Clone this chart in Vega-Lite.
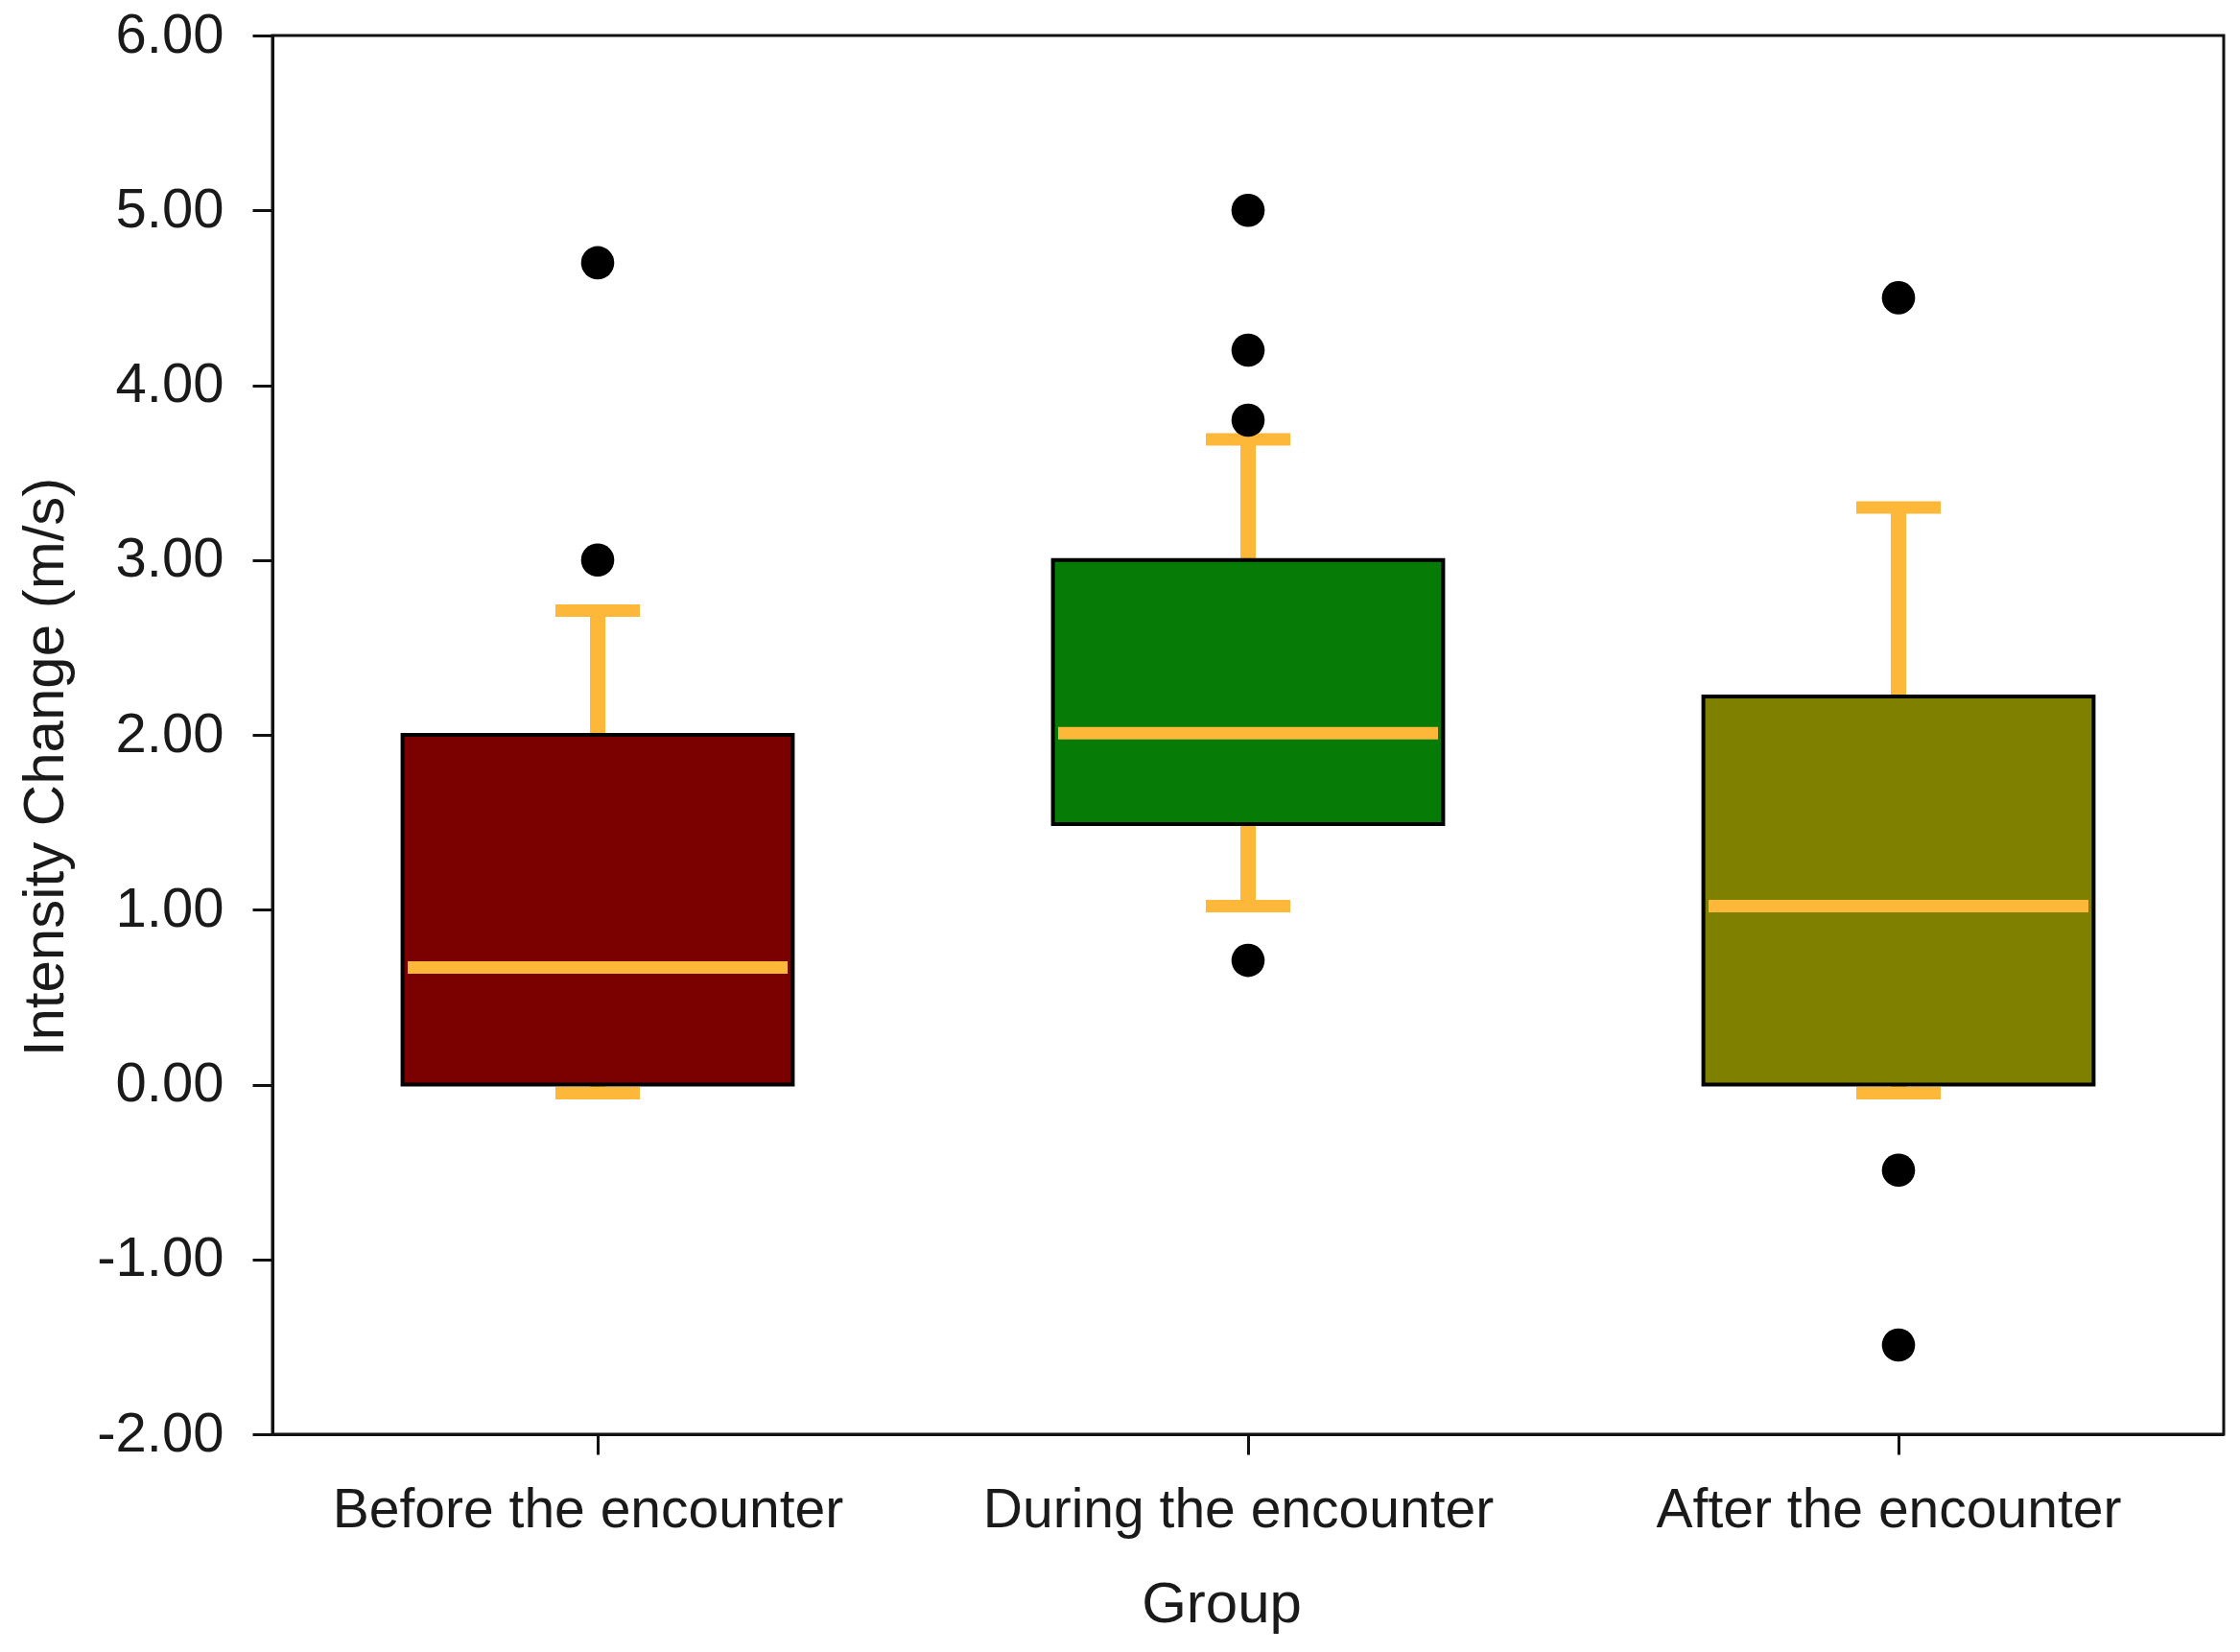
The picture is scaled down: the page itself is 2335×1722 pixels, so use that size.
{
  "$schema": "https://vega.github.io/schema/vega-lite/v6.json",
  "autosize": {"type": "none"},
  "width": 2034,
  "height": 1458,
  "padding": {"left": 284, "top": 37, "right": 17, "bottom": 227},
  "background": "white",
  "config": {
    "view": {"stroke": "#111", "strokeWidth": 3},
    "font": "Liberation Sans",
    "axis": {
      "labelFont": "Liberation Sans",
      "titleFont": "Liberation Sans",
      "labelFontSize": 58,
      "titleFontSize": 60,
      "labelColor": "#1a1a1a",
      "titleColor": "#1a1a1a",
      "titleFontWeight": "normal",
      "domainColor": "#111",
      "domainWidth": 3,
      "tickColor": "#111",
      "tickWidth": 3,
      "tickSize": 21,
      "grid": false,
      "labelLimit": 0
    }
  },
  "datasets": {
    "summary": [
      {"group": "Before the encounter", "lower": -0.05, "q1": 0.0, "median": 0.67, "q3": 2.0, "upper": 2.71},
      {"group": "During the encounter", "lower": 1.02, "q1": 1.49, "median": 2.01, "q3": 3.0, "upper": 3.69},
      {"group": "After the encounter", "lower": -0.05, "q1": 0.0, "median": 1.02, "q3": 2.22, "upper": 3.3}
    ],
    "outliers": [
      {"group": "Before the encounter", "value": 4.7},
      {"group": "Before the encounter", "value": 3.0},
      {"group": "During the encounter", "value": 5.0},
      {"group": "During the encounter", "value": 4.2},
      {"group": "During the encounter", "value": 3.8},
      {"group": "During the encounter", "value": 0.71},
      {"group": "After the encounter", "value": 4.5},
      {"group": "After the encounter", "value": -0.49},
      {"group": "After the encounter", "value": -1.49}
    ]
  },
  "encoding": {
    "x": {
      "field": "group",
      "type": "nominal",
      "sort": ["Before the encounter", "During the encounter", "After the encounter"],
      "scale": {"paddingInner": 0, "paddingOuter": 0},
      "axis": {"title": "Group", "labelAngle": 0, "labelPadding": 30, "labelOffset": -10, "labelFontSize": 57, "titlePadding": 41, "titleX": 989}
    }
  },
  "layer": [
    {
      "data": {"name": "summary"},
      "mark": {"type": "rule", "color": "#fdb83a", "strokeWidth": 16},
      "encoding": {
        "y": {
          "field": "lower",
          "type": "quantitative",
          "scale": {"domain": [-2, 6], "nice": false, "zero": false},
          "axis": {
            "title": "Intensity Change (m/s)",
            "values": [-2, -1, 0, 1, 2, 3, 4, 5, 6],
            "labelExpr": "(datum.value < 0 ? '-' : '') + format(abs(datum.value), '.2f')",
            "labelPadding": 30,
            "titlePadding": 22,
            "titleY": 762
          }
        },
        "y2": {"field": "upper"}
      }
    },
    {
      "data": {"name": "summary"},
      "mark": {"type": "tick", "color": "#fdb83a", "size": 88, "thickness": 13, "opacity": 1},
      "encoding": {"y": {"field": "upper", "type": "quantitative"}}
    },
    {
      "data": {"name": "summary"},
      "mark": {"type": "tick", "color": "#fdb83a", "size": 88, "thickness": 13, "opacity": 1},
      "encoding": {"y": {"field": "lower", "type": "quantitative"}}
    },
    {
      "data": {"name": "summary"},
      "mark": {"type": "bar", "width": {"band": 0.6}, "stroke": "#000", "strokeWidth": 4, "opacity": 1},
      "encoding": {
        "y": {"field": "q1", "type": "quantitative"},
        "y2": {"field": "q3"},
        "color": {
          "field": "group",
          "type": "nominal",
          "scale": {
            "domain": ["Before the encounter", "During the encounter", "After the encounter"],
            "range": ["#7b0000", "#067b06", "#808000"]
          },
          "legend": null
        }
      }
    },
    {
      "data": {"name": "summary"},
      "mark": {"type": "tick", "color": "#fdb83a", "size": 396, "thickness": 13, "opacity": 1},
      "encoding": {"y": {"field": "median", "type": "quantitative"}}
    },
    {
      "data": {"name": "outliers"},
      "mark": {"type": "point", "filled": true, "shape": "circle", "color": "#000", "size": 1200, "opacity": 1},
      "encoding": {"y": {"field": "value", "type": "quantitative"}}
    }
  ]
}
